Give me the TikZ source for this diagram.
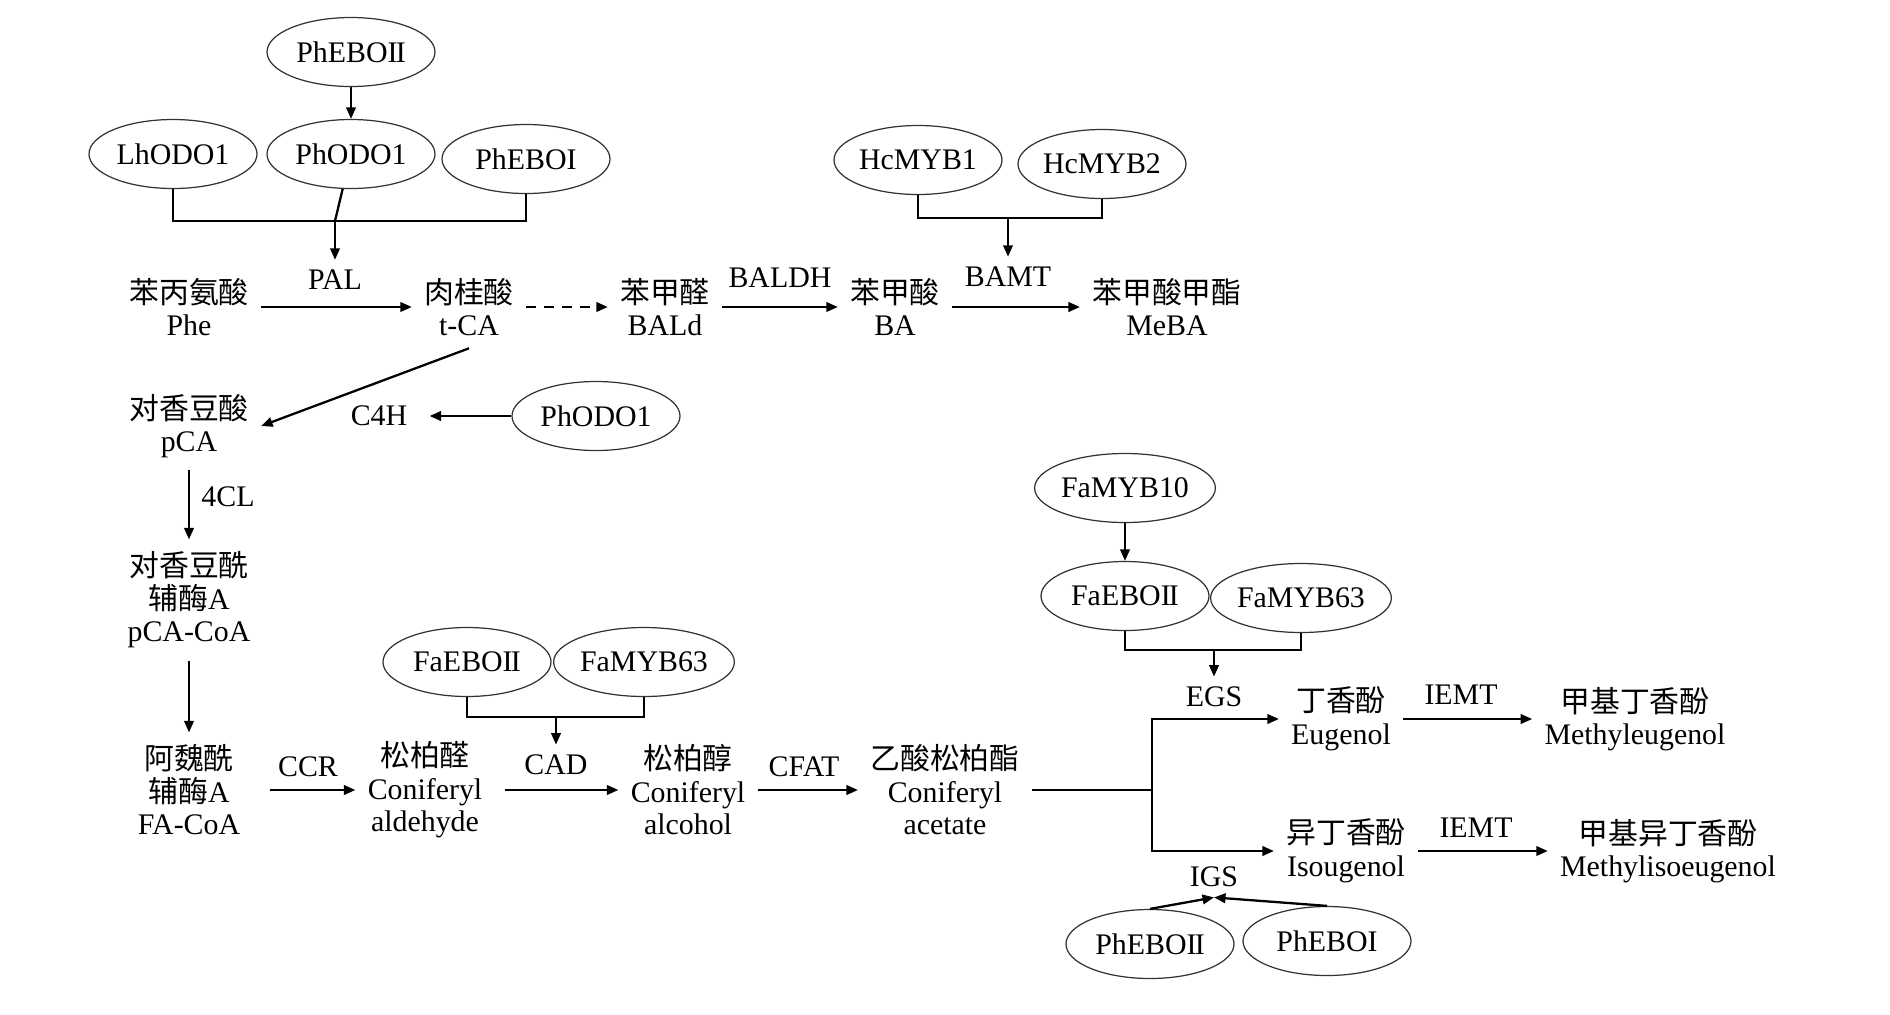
\documentclass[tikz,border=0pt]{standalone}
\usepackage{fontspec}
\setmainfont{Liberation Serif}
\newfontfamily\cjk{Noto Sans CJK SC}
\usetikzlibrary{shapes.geometric,arrows.meta}
\newcommand{\zh}[1]{{\cjk #1}}
\newcommand{\dbl}{I\kern-1pt I}

\begin{document}
\begin{tikzpicture}[x=0.2mm, y=-0.2mm,
    font=\fontsize{17}{18.5}\selectfont,
    met/.style={align=center, inner sep=2.4mm},
    enz/.style={inner sep=2mm},
    tf/.style={draw=black!80, line width=0.7pt, ellipse, minimum width=33.6mm, minimum height=13.8mm, inner sep=0pt},
    ln/.style={line width=1.3pt},
    arr/.style={line width=1.3pt, -{Triangle[length=2.3mm, width=1.9mm]}}]
  \useasboundingbox (0,0) rectangle (1890,1014);

  \node[met](Phe)  at ( 189, 307) {\zh{苯丙氨酸}\\Phe};
  \node[met](tCA)  at ( 469, 307) {\zh{肉桂酸}\\t-CA};
  \node[met](BALd) at ( 665, 307) {\zh{苯甲醛}\\BALd};
  \node[met](BA)   at ( 895, 307) {\zh{苯甲酸}\\BA};
  \node[met](MeBA) at (1167, 307) {\zh{苯甲酸甲酯}\\MeBA};
  \node[met](pCA)  at ( 189, 426) {\zh{对香豆酸}\\pCA};
  \node[met](pCoA) at ( 189, 600) {\zh{对香豆酰}\\\zh{辅酶}A\\pCA-CoA};
  \node[met](FCoA) at ( 189, 790) {\zh{阿魏酰}\\\zh{辅酶}A\\FA-CoA};
  \node[met](CAld) at ( 425, 790) {\zh{松柏醛}\\Coniferyl\\aldehyde};
  \node[met](CAlc) at ( 688, 790) {\zh{松柏醇}\\Coniferyl\\alcohol};
  \node[met](CAc)  at ( 945, 790) {\zh{乙酸松柏酯}\\Coniferyl\\acetate};
  \node[met](Eug)  at (1341, 719) {\zh{丁香酚}\\Eugenol};
  \node[met](MEug) at (1635, 719) {\zh{甲基丁香酚}\\Methyleugenol};
  \node[met](Iso)  at (1346, 851) {\zh{异丁香酚}\\Isougenol};
  \node[met](MIso) at (1668, 851) {\zh{甲基异丁香酚}\\Methylisoeugenol};

  \node[enz](PAL)   at ( 335, 280) {PAL};
  \node[enz](BALDH) at ( 780, 278) {BALDH};
  \node[enz](BAMT)  at (1008, 277) {BAMT};
  \node[enz](C4H)   at ( 379, 416) {C4H};
  \node[enz](CL)    at ( 228, 497) {4CL};
  \node[enz](CCR)   at ( 308, 767) {CCR};
  \node[enz](CAD)   at ( 556, 765) {CAD};
  \node[enz](CFAT)  at ( 804, 767) {CFAT};
  \node[enz](EGS)   at (1214, 697) {EGS};
  \node[enz](IEMTa) at (1461, 695) {IEMT};
  \node[enz](IEMTb) at (1476, 828) {IEMT};
  \node[enz](IGS)   at (1214, 877) {IGS};

  \node[tf](EBOIIa) at ( 351,  52) {PhEBO\dbl};
  \node[tf](LhODO)  at ( 173, 154) {LhODO1};
  \node[tf](ODOa)   at ( 351, 154) {PhODO1};
  \node[tf](EBOIa)  at ( 526, 159) {PhEBOI};
  \node[tf](MYBa)   at ( 918, 160) {HcMYB1};
  \node[tf](MYBb)   at (1102, 164) {HcMYB2};
  \node[tf](ODOb)   at ( 596, 416) {PhODO1};
  \node[tf](EBOIIb) at ( 467, 662) {FaEBO\dbl};
  \node[tf](MYBc)   at ( 644, 662) {FaMYB63};
  \node[tf](MYBd)   at (1125, 488) {FaMYB10};
  \node[tf](EBOIIc) at (1125, 596) {FaEBO\dbl};
  \node[tf](MYBe)   at (1301, 598) {FaMYB63};
  \node[tf](EBOIId) at (1150, 944) {PhEBO\dbl};
  \node[tf](EBOId)  at (1327, 941) {PhEBOI};

  \coordinate(ja) at ( 335, 221);
  \coordinate(jb) at (1008, 218);
  \coordinate(jc) at ( 556, 717);
  \coordinate(jd) at (1214, 650);
  \coordinate(br) at (1152, 790);

  \draw[arr] (Phe)  -- (tCA);
  \draw[arr, dash pattern=on 2mm off 1.6mm] (tCA) -- (BALd);
  \draw[arr] (BALd) -- (BA);
  \draw[arr] (BA)   -- (MeBA);
  \draw[arr] (tCA.south) -- (pCA.east);
  \draw[arr] (pCA)  -- (pCoA);
  \draw[arr] (pCoA) -- (FCoA);
  \draw[arr, shorten <=3.4mm] (FCoA) -- (CAld);
  \draw[arr, shorten <=2mm] (CAld) -- (CAlc);
  \draw[arr] (CAlc) -- (CAc);
  \draw[ln]  (CAc)  -- (br);
  \draw[arr] (br) |- (Eug);
  \draw[arr] (br) |- (Iso);
  \draw[arr] (Eug)  -- (MEug);
  \draw[arr] (Iso)  -- (MIso);

  \draw[arr] (EBOIIa) -- (ODOa);
  \draw[ln]  (LhODO) |- (ja) -| (EBOIa);
  \draw[ln]  (ODOa) -- (ja);
  \draw[arr] (ja) -- (PAL);
  \draw[ln]  (MYBa) |- (jb) -| (MYBb);
  \draw[arr] (jb) -- (BAMT);
  \draw[arr, shorten >=2.4mm] (ODOb) -- (C4H);
  \draw[ln]  (EBOIIb) |- (jc) -| (MYBc);
  \draw[arr] (jc) -- (CAD);
  \draw[arr] (MYBd) -- (EBOIIc);
  \draw[ln]  (EBOIIc) |- (jd) -| (MYBe);
  \draw[arr] (jd) -- (EGS);
  \draw[arr] (EBOIId.north) -- (IGS.south);
  \draw[arr] (EBOId.north)  -- (IGS.south);
\end{tikzpicture}
\end{document}
